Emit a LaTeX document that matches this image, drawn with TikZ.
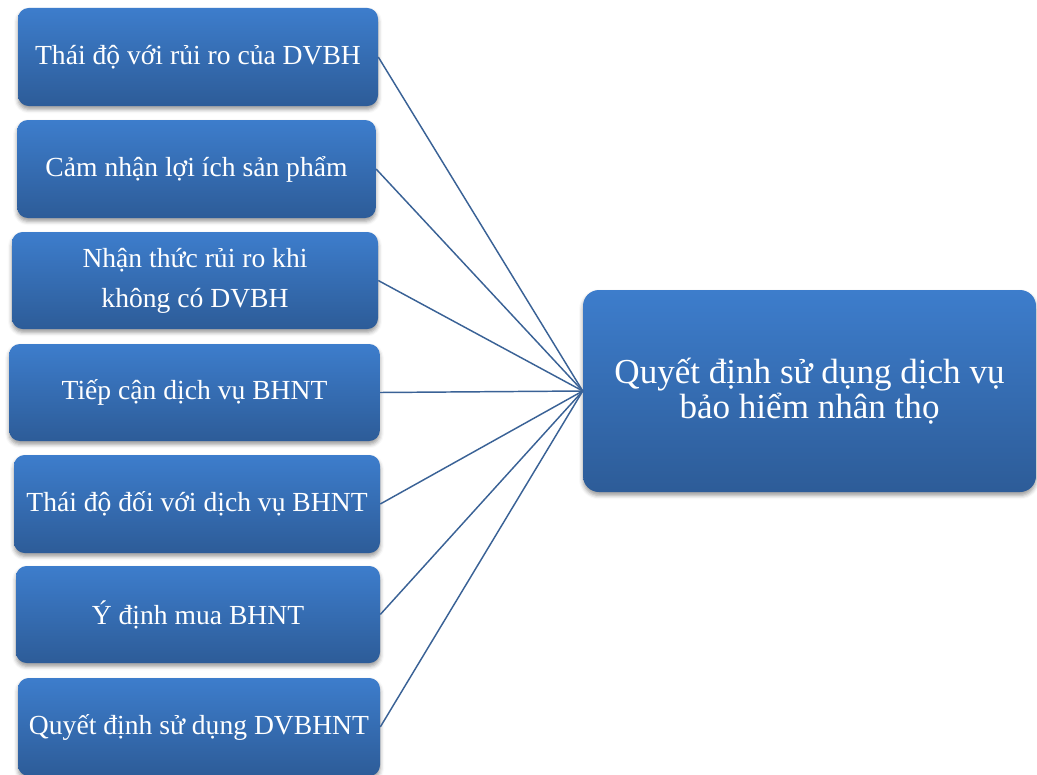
\documentclass[tikz,border=0pt]{standalone}
\usepackage{fontspec}
\setmainfont{Liberation Serif}
\usetikzlibrary{shadows.blur}
\definecolor{boxtop}{RGB}{61,125,204}
\definecolor{boxbot}{RGB}{45,92,152}
\definecolor{linkblue}{RGB}{58,98,150}
\tikzset{
  factor/.style={rounded corners=8pt, inner sep=0pt, align=center,
    top color=boxtop, bottom color=boxbot, draw=none, text=white,
    font=\fontsize{20.7}{30}\selectfont,
    blur shadow={shadow xshift=0pt, shadow yshift=-2.5pt, shadow blur radius=3pt, shadow opacity=40}},
  outcome/.style={factor, rounded corners=12pt, font=\fontsize{26.3}{26.5}\selectfont},
  link/.style={draw=linkblue, line width=1.1pt}
}
\begin{document}
\begin{tikzpicture}[x=0.75pt,y=-0.75pt]
\useasboundingbox (0,0) rectangle (1037,774);
% factor boxes on the left
\node[factor, minimum width=270pt, minimum height=73.5pt] (f1) at (198,57) {Thái độ với rủi ro của DVBH};
\node[factor, minimum width=269pt, minimum height=73.5pt] (f2) at (196.5,169) {Cảm nhận lợi ích sản phẩm};
\node[factor, minimum width=274.5pt, minimum height=72.75pt] (f3) at (195,280.5) {Nhận thức rủi ro khi\\không có DVBH};
\node[factor, minimum width=278pt, minimum height=72.75pt] (f4) at (194.5,392.5) {Tiếp cận dịch vụ BHNT};
\node[factor, minimum width=274.5pt, minimum height=73.5pt] (f5) at (197,504) {Thái độ đối với dịch vụ BHNT};
\node[factor, minimum width=273pt, minimum height=72.75pt] (f6) at (198,614.5) {Ý định mua BHNT};
\node[factor, minimum width=271.5pt, minimum height=73.5pt] (f7) at (199,727) {Quyết định sử dụng DVBHNT};
% outcome box on the right
\node[outcome, minimum width=339.75pt, minimum height=151.5pt] (q) at (809.5,391) {Quyết định sử dụng dịch vụ\\bảo hiểm nhân thọ};
% connectors
\foreach \i in {1,...,7}
  \draw[link] (f\i.east) -- (q.west);
\end{tikzpicture}
\end{document}
